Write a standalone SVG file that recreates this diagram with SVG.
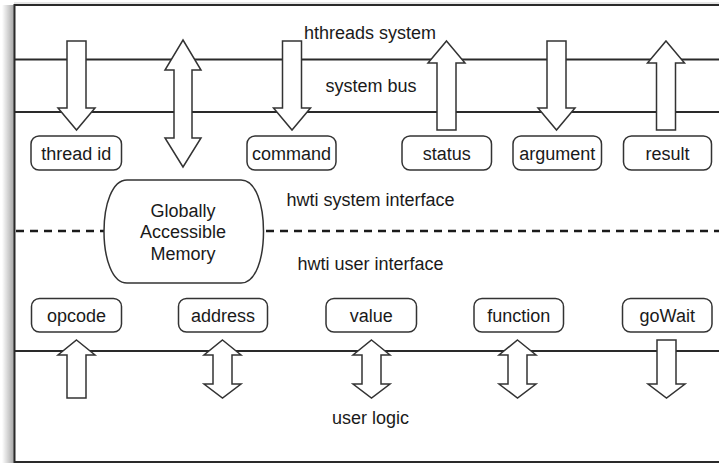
<svg xmlns="http://www.w3.org/2000/svg" width="719" height="463" viewBox="0 0 719 463">
  <defs>
    <linearGradient id="shadow" x1="0" y1="0" x2="1" y2="0">
      <stop offset="0" stop-color="#000" stop-opacity="0"/>
      <stop offset="1" stop-color="#000" stop-opacity="0.35"/>
    </linearGradient>
  </defs>
  <style>
    text { font-family: "Liberation Sans", Arial, Helvetica, sans-serif; font-size: 18px; fill: #1a1a1a; text-anchor: middle; }
    .line { stroke: #2a2a2a; stroke-width: 2; fill: none; }
    .dash { stroke: #1a1a1a; stroke-width: 2.5; stroke-dasharray: 8 6; fill: none; }
    .box { fill: #fff; stroke: #333; stroke-width: 1.5; }
    .arrow { fill: #fff; stroke: #333; stroke-width: 1.5; stroke-linejoin: miter; }
  </style>
  <rect width="719" height="463" fill="#fff"/>
  <!-- frame shadow -->
  <rect x="2" y="5" width="12" height="458" fill="url(#shadow)"/>
  <line x1="14" y1="3" x2="719" y2="3" stroke="#ccc" stroke-width="1"/>
  <!-- frame -->
  <path class="line" d="M719,5 H14.5 V462 H719" stroke-width="2.2"/>

  <g id="connectors">
    <!-- bus lines -->
    <line class="line" x1="14" y1="59.5" x2="719" y2="59.5"/>
    <line class="line" x1="14" y1="112" x2="719" y2="112"/>
    <line class="line" x1="14" y1="351" x2="719" y2="351"/>
    <!-- dashed interface line -->
    <line class="dash" x1="16" y1="231" x2="104" y2="231"/>
    <line class="dash" x1="266" y1="231" x2="719" y2="231"/>

    <!-- top arrows -->
    <polygon class="arrow" points="67,41 86,41 86,108 95,108 76.5,130 58,108 67,108"/>
    <polygon class="arrow" points="183,40 201,70 192,70 192,138 201,138 183,167 165,138 174,138 174,70 165,70"/>
    <polygon class="arrow" points="282.5,41 301.5,41 301.5,108 310.5,108 292,130 273.5,108 282.5,108"/>
    <polygon class="arrow" points="446.5,41 465,63 456,63 456,130 437,130 437,63 428,63"/>
    <polygon class="arrow" points="547,41 566,41 566,108 575,108 556.5,130 538,108 547,108"/>
    <polygon class="arrow" points="666,41 684.5,63 675.5,63 675.5,130 656.5,130 656.5,63 647.5,63"/>

    <!-- bottom arrows -->
    <polygon class="arrow" points="76.5,340 95,355 86,355 86,398 67,398 67,355 58,355"/>
    <polygon class="arrow" points="222.5,340 241,355 232,355 232,384 241,384 222.5,398 204,384 213,384 213,355 204,355"/>
    <polygon class="arrow" points="371.5,340 390,355 381,355 381,384 390,384 371.5,398 353,384 362,384 362,355 353,355"/>
    <polygon class="arrow" points="517.5,340 536,355 527,355 527,384 536,384 517.5,398 499,384 508,384 508,355 499,355"/>
    <polygon class="arrow" points="657,340 676,340 676,384 685,384 666.5,398 648,384 657,384"/>
  </g>

  <!-- labels -->
  <text x="370" y="39">hthreads system</text>
  <text x="371" y="92">system bus</text>
  <text x="370.5" y="206">hwti system interface</text>
  <text x="370.5" y="270">hwti user interface</text>
  <text x="370.5" y="424">user logic</text>

  <!-- top row nodes -->
  <g id="thread-id">
    <rect class="box" x="31" y="136" width="90.5" height="34" rx="8"/>
    <text x="76.25" y="159.5">thread id</text>
  </g>
  <g id="command">
    <rect class="box" x="247" y="136" width="89" height="34" rx="8"/>
    <text x="291.5" y="159.5">command</text>
  </g>
  <g id="status">
    <rect class="box" x="402" y="136" width="89.5" height="34" rx="8"/>
    <text x="446.75" y="159.5">status</text>
  </g>
  <g id="argument">
    <rect class="box" x="513" y="136" width="88.5" height="34" rx="8"/>
    <text x="557.25" y="159.5">argument</text>
  </g>
  <g id="result">
    <rect class="box" x="623.5" y="136" width="88" height="34" rx="8"/>
    <text x="667.5" y="159.5">result</text>
  </g>

  <!-- memory -->
  <g id="memory">
    <path class="box" d="M127,180 H241 C256,180 263.5,205 263.5,231.5 C263.5,258 256,283 241,283 H127 C112,283 104,258 104,231.5 C104,205 112,180 127,180 Z"/>
    <text x="183" y="216.5">Globally</text>
    <text x="183" y="238">Accessible</text>
    <text x="183" y="259.5">Memory</text>
  </g>

  <!-- bottom row nodes -->
  <g id="opcode">
    <rect class="box" x="31.5" y="298.5" width="90" height="33.5" rx="8"/>
    <text x="76.5" y="321.5">opcode</text>
  </g>
  <g id="address">
    <rect class="box" x="178.5" y="298.5" width="89" height="33.5" rx="8"/>
    <text x="223" y="321.5">address</text>
  </g>
  <g id="value">
    <rect class="box" x="326" y="298.5" width="90.5" height="33.5" rx="8"/>
    <text x="371.25" y="321.5">value</text>
  </g>
  <g id="function">
    <rect class="box" x="474" y="298.5" width="89.5" height="33.5" rx="8"/>
    <text x="518.75" y="321.5">function</text>
  </g>
  <g id="goWait">
    <rect class="box" x="622.5" y="298.5" width="89.5" height="33.5" rx="8"/>
    <text x="667.25" y="321.5">goWait</text>
  </g>
</svg>
